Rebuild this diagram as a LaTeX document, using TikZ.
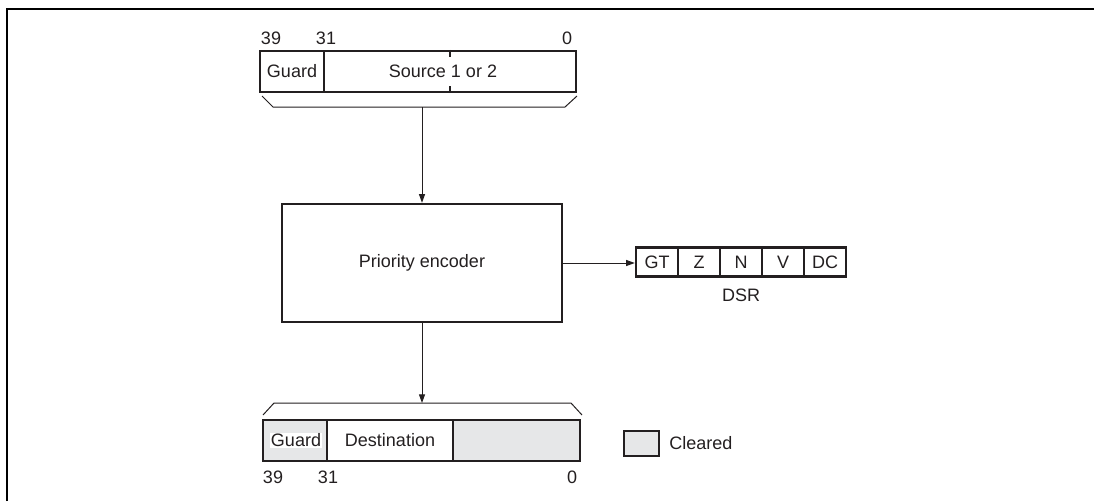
\documentclass[tikz,border=0pt]{standalone}
\usepackage{fontspec}
\setmainfont{Liberation Sans}
\usepackage{xcolor}
\usetikzlibrary{arrows.meta,calc}

\definecolor{ink}{RGB}{35,31,32}
\definecolor{cleared}{RGB}{230,231,232}

\tikzset{
  regcell/.style={draw=ink, line width=1.8pt, inner sep=0pt, minimum height=30.75pt, text=ink},
  flow/.style={draw=ink, line width=0.75pt, -{Triangle[length=6.5pt,width=4.5pt]}},
  brace/.style={draw=ink, line width=0.75pt},
  bitnum/.style={inner sep=0pt, text=ink},
}

\begin{document}
\begin{tikzpicture}[x=0.75pt,y=0.75pt,yscale=-1,xscale=1,font=\fontsize{13.5}{16}\selectfont]
  \useasboundingbox (0,0) rectangle (1094,501);

  %Frame
  \draw [line width=1.5pt] (7,501) -- (7,9) -- (1094,9) ;

  %Shape: Source register
  \node [regcell, minimum width=48pt] (sguard) at (292,71.5) {Guard};
  \node [regcell, minimum width=189pt] (sdata) at (450,71.5) {};
  \draw [ink, line width=1.8pt] (sdata.north) -- ++(0,7) (sdata.south) -- ++(0,-7) ;
  % Text Node
  \node [bitnum] (stext) at (443,71.5) {Source 1 or 2};
  \node [bitnum] (s39) at (271,38) {39};
  \node [bitnum] (s31) at (326,38) {31};
  \node [bitnum] (s0) at (567,38) {0};
  %Straight Lines: brace
  \draw [brace] (262,96) -- (273,107) -- (565,107) -- (577,96) ;
  \coordinate (sbr) at (422,107);

  %Shape: Priority encoder
  \node [regcell, minimum width=210pt, minimum height=88.5pt] (enc) at (422,263) {Priority encoder};
  \draw [flow] (sbr) -- (enc.north) ;

  %Shape: DSR
  \foreach \f [count=\i] in {GT,Z,N,V,DC}
    \node [regcell, minimum width=31.5pt, minimum height=21.75pt] (dsr\i) at ({636+42*\i-21},262) {\f};
  \node [bitnum] (dsrlbl) at (741,295) {DSR};
  \draw [flow] (enc.east) -- (enc.east -| dsr1.west) ;

  %Straight Lines: brace
  \coordinate (dbr) at (422,403);
  \draw [flow] (enc.south) -- (dbr) ;
  \draw [brace] (263,415) -- (274,403) -- (571,403) -- (582,415) ;

  %Shape: Destination register
  \node [regcell, fill=cleared, minimum width=48pt] (dguard) at (295,440.5) {};
  \node [regcell, minimum width=94.5pt] (ddata) at (390,440.5) {Destination};
  \node [regcell, fill=cleared, minimum width=95.25pt] (dclr) at (516.5,440.5) {};
  % Text Node
  \node [bitnum, fill=white, inner sep=1pt] (dgtext) at (296,440.5) {Guard};
  \node [bitnum] (d39) at (273,477) {39};
  \node [bitnum] (d31) at (328,477) {31};
  \node [bitnum] (d0) at (572,477) {0};

  %Shape: Legend
  \node [regcell, fill=cleared, minimum width=26.25pt, minimum height=18.75pt] (key) at (641.5,443.5) {};
  \node [bitnum, anchor=west] (keylbl) at ([xshift=6.75pt]key.east) {Cleared};

\end{tikzpicture}
\end{document}
